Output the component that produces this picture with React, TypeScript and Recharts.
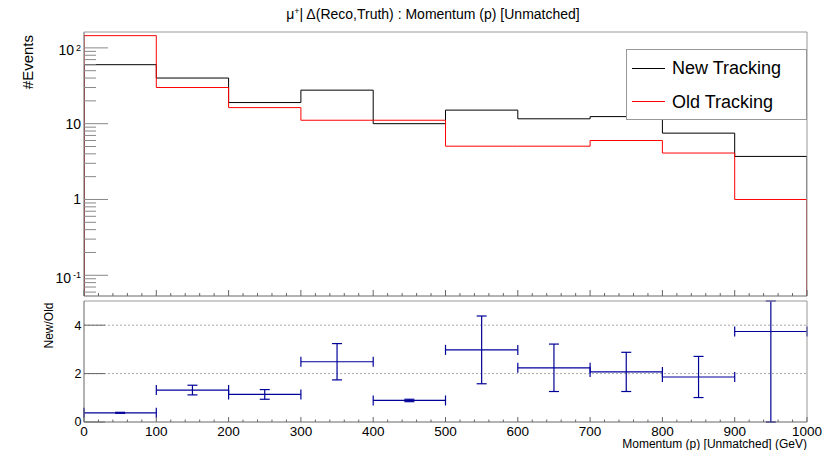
import React from 'react';
import { ComposedChart, Line, XAxis, YAxis, Scatter, ErrorBar, CartesianGrid, Legend, Label } from 'recharts';

const FONT = '"Liberation Sans", Arial, Helvetica, sans-serif';

// ---- data ----
const binEdges = [0, 100, 200, 300, 400, 500, 600, 700, 800, 900, 1000];
const newCounts = [60, 40, 19, 27.7, 10, 15.1, 11.6, 12.4, 7.5, 3.7];
const oldCounts = [145, 30, 16.3, 11.1, 11.1, 5.05, 5.05, 6, 4.1, 1];
const ratioValues = [0.38, 1.32, 1.14, 2.49, 0.89, 2.98, 2.24, 2.07, 1.86, 3.74];
const ratioErrors = [0.02, 0.2, 0.2, 0.75, 0.05, 1.4, 0.98, 0.81, 0.85, 4];
const seriesNames = ['New Tracking', 'Old Tracking'];
const seriesColors = ['#000000', '#ff0000'];
const countRange = [0.0533, 162];
const ratioRange = [0, 5];
const countMajorTicks = [0.1, 1, 10, 100];
const countMinorTicks = [0.06, 0.07, 0.08, 0.09, 0.2, 0.3, 0.4, 0.5, 0.6, 0.7, 0.8, 0.9, 2, 3, 4, 5, 6, 7, 8, 9, 20, 30, 40, 50, 60, 70, 80, 90];
const ratioTicks = [0, 2, 4];
const ratioGridValues = [2, 4];
const xMajorTicks = [0, 100, 200, 300, 400, 500, 600, 700, 800, 900, 1000];
const xMinorPerMajor = 5;
const titleText = '| Δ(Reco,Truth) : Momentum (p) [Unmatched]';
const xTitle = 'Momentum (p) [Unmatched] (GeV)';

// ---- derived tables ----
const xAllTicks: number[] = [];
xMajorTicks.forEach((t, i) => {
  xAllTicks.push(t);
  if (i < xMajorTicks.length - 1) {
    const step = (xMajorTicks[i + 1] - t) / xMinorPerMajor;
    for (let k = 1; k < xMinorPerMajor; k++) xAllTicks.push(t + k * step);
  }
});
const countTicks = [...countMinorTicks, ...countMajorTicks].sort((a, b) => a - b);

function stepData(counts: number[]) {
  const base = countRange[0];
  const last = binEdges[binEdges.length - 1];
  const pts = [{ x: binEdges[0], y: base }];
  counts.forEach((c, i) => pts.push({ x: binEdges[i], y: c }));
  pts.push({ x: last, y: counts[counts.length - 1] });
  pts.push({ x: last, y: base });
  return pts;
}
const newStep = stepData(newCounts);
const oldStep = stepData(oldCounts);
// error bars clipped to the visible ratio range
const ratioData = ratioValues.map((r, i) => ({
  x: (binEdges[i] + binEdges[i + 1]) / 2,
  y: r,
  ex: (binEdges[i + 1] - binEdges[i]) / 2,
  ey: [Math.min(ratioErrors[i], r - ratioRange[0]), Math.min(ratioErrors[i], ratioRange[1] - r)],
}));

const AXIS = '#666';
const FRAME = '#999';
const TICK = '#888';

const TopYTick = (props: any) => {
  const { x, y, payload } = props;
  const v = payload.value;
  const major = countMajorTicks.includes(v);
  let label: any = null;
  if (major) {
    const exp = Math.round(Math.log10(v));
    if (exp === 0 || exp === 1) {
      label = (
        <text x={x - 3} y={y} dy="0.35em" textAnchor="end" fontSize={14} fill="#000">
          {exp === 0 ? '1' : '10'}
        </text>
      );
    } else {
      label = (
        <text x={x - 3} y={y + 2.5} dy="0.35em" textAnchor="end" fontSize={14} fill="#000">
          10
          <tspan dx={2} dy={-4.5} fontSize={9}>{String(exp)}</tspan>
        </text>
      );
    }
  }
  return (
    <g>
      <line x1={x} x2={x + (major ? 24 : 12)} y1={y} y2={y} stroke={TICK} />
      {label}
    </g>
  );
};

const TopXTick = (props: any) => {
  const { x, y, payload } = props;
  const major = xMajorTicks.includes(payload.value);
  return <line x1={x} x2={x} y1={y} y2={y - (major ? 6 : 3)} stroke={AXIS} />;
};

const BottomXTick = (props: any) => {
  const { x, y, payload } = props;
  const major = xMajorTicks.includes(payload.value);
  return (
    <g>
      <line x1={x} x2={x} y1={y} y2={y - (major ? 5 : 2.5)} stroke={AXIS} />
      {major && (
        <text x={x} y={y + 13.5} textAnchor="middle" fontSize={13.5} fill="#000">
          {String(payload.value)}
        </text>
      )}
    </g>
  );
};

const BottomYTick = (props: any) => {
  const { x, y, payload } = props;
  return (
    <g>
      <line x1={x} x2={x + 21} y1={y} y2={y} stroke={AXIS} />
      <text x={x - 2.5} y={y} dy="0.35em" textAnchor="end" fontSize={12.5} fill="#000">
        {String(payload.value)}
      </text>
    </g>
  );
};

const LegendBox = () => (
  <div
    style={{
      position: 'relative',
      width: 181,
      height: 71,
      boxSizing: 'border-box',
      border: `1px solid ${FRAME}`,
      background: '#fff',
      fontFamily: FONT,
    }}
  >
    {seriesNames.map((name, i) => (
      <React.Fragment key={name}>
        <div
          style={{
            position: 'absolute',
            left: 5,
            top: 17.5 + i * 33.5,
            width: 33,
            height: 1,
            background: seriesColors[i],
          }}
        />
        <div
          style={{
            position: 'absolute',
            left: 45,
            top: 18 + i * 33.5,
            transform: 'translateY(-50%)',
            fontSize: 18,
            lineHeight: 1,
            whiteSpace: 'nowrap',
            color: '#000',
          }}
        >
          {name}
        </div>
      </React.Fragment>
    ))}
  </div>
);

export default function App() {
  return (
    <div
      style={{
        position: 'absolute',
        left: 0,
        top: 0,
        width: 825,
        height: 450,
        background: '#fff',
        fontFamily: FONT,
        overflow: 'hidden',
      }}
    >
      <svg width={825} height={30} style={{ position: 'absolute', left: 0, top: 0 }}>
        <text x={433} y={18.5} textAnchor="middle" fontSize={14} fill="#000" fontFamily={FONT}>
          μ<tspan dy={-5} fontSize={9}>+</tspan>
          <tspan dy={5}>{titleText}</tspan>
        </text>
      </svg>

      <div style={{ position: 'absolute', left: 0, top: 0 }}>
        <ComposedChart width={825} height={300} margin={{ top: 31, right: 17, bottom: 3, left: 0 }}>
          <XAxis
            dataKey="x"
            type="number"
            domain={[0, 1000]}
            ticks={xAllTicks}
            interval={0}
            height={1}
            tickSize={0}
            tickMargin={0}
            tick={<TopXTick />}
            tickLine={false}
            axisLine={{ stroke: AXIS }}
            allowDataOverflow
          />
          <XAxis
            xAxisId="top"
            orientation="top"
            type="number"
            domain={[0, 1000]}
            height={1}
            tick={false}
            tickLine={false}
            axisLine={{ stroke: FRAME }}
          />
          <YAxis
            dataKey="y"
            type="number"
            scale="log"
            domain={countRange}
            allowDataOverflow
            ticks={countTicks}
            interval={0}
            width={84}
            tickSize={0}
            tickMargin={0}
            tickLine={false}
            tick={<TopYTick />}
            axisLine={{ stroke: AXIS }}
          >
            <Label
              content={(p: any) => {
                const vb = p.viewBox || { x: 0, y: 32 };
                const tx = vb.x + 33;
                const ty = vb.y + 3;
                return (
                  <text
                    x={tx}
                    y={ty}
                    transform={`rotate(-90, ${tx}, ${ty})`}
                    textAnchor="end"
                    fontSize={15}
                    fill="#000"
                  >
                    #Events
                  </text>
                );
              }}
            />
          </YAxis>
          <YAxis
            yAxisId="right"
            orientation="right"
            type="number"
            domain={[0, 1]}
            width={1}
            tick={false}
            tickLine={false}
            axisLine={{ stroke: FRAME }}
          />
          <Line
            data={newStep}
            dataKey="y"
            type="stepAfter"
            stroke={seriesColors[0]}
            strokeWidth={1}
            dot={false}
            activeDot={false}
            isAnimationActive={false}
            name={seriesNames[0]}
          />
          <Line
            data={oldStep}
            dataKey="y"
            type="stepAfter"
            stroke={seriesColors[1]}
            strokeWidth={1}
            dot={false}
            activeDot={false}
            isAnimationActive={false}
            name={seriesNames[1]}
          />
          <Legend
            layout="vertical"
            align="center"
            verticalAlign="middle"
            wrapperStyle={{ left: 626, top: 49, width: 181, height: 71 }}
            content={() => <LegendBox />}
          />
        </ComposedChart>
      </div>

      <div style={{ position: 'absolute', left: 0, top: 300 }}>
        <ComposedChart width={825} height={150} margin={{ top: 0, right: 17, bottom: 27, left: 0 }}>
          <CartesianGrid vertical={false} horizontalValues={ratioGridValues} stroke="#aaa" strokeDasharray="2 2" />
          <XAxis
            dataKey="x"
            type="number"
            domain={[0, 1000]}
            ticks={xAllTicks}
            interval={0}
            height={1}
            tickSize={0}
            tickMargin={0}
            tickLine={false}
            tick={<BottomXTick />}
            axisLine={{ stroke: AXIS }}
            allowDataOverflow
          >
            <Label
              content={(p: any) => {
                const vb = p.viewBox || { x: 84, y: 122, width: 723 };
                return (
                  <text x={vb.x + vb.width} y={vb.y + 25.5} textAnchor="end" fontSize={12} fill="#000">
                    {xTitle}
                  </text>
                );
              }}
            />
          </XAxis>
          <XAxis
            xAxisId="top"
            orientation="top"
            type="number"
            domain={[0, 1000]}
            height={1}
            tick={false}
            tickLine={false}
            axisLine={{ stroke: FRAME }}
          />
          <YAxis
            dataKey="y"
            type="number"
            domain={ratioRange}
            allowDataOverflow
            ticks={ratioTicks}
            interval={0}
            width={84}
            tickSize={0}
            tickMargin={0}
            tickLine={false}
            tick={<BottomYTick />}
            axisLine={{ stroke: AXIS }}
          >
            <Label
              content={(p: any) => {
                const vb = p.viewBox || { x: 0, y: 1 };
                const tx = vb.x + 53;
                const ty = vb.y + 1.5;
                return (
                  <text
                    x={tx}
                    y={ty}
                    transform={`rotate(-90, ${tx}, ${ty})`}
                    textAnchor="end"
                    fontSize={12}
                    fill="#000"
                  >
                    New/Old
                  </text>
                );
              }}
            />
          </YAxis>
          <YAxis
            yAxisId="right"
            orientation="right"
            type="number"
            domain={[0, 1]}
            width={1}
            tick={false}
            tickLine={false}
            axisLine={{ stroke: FRAME }}
          />
          <Scatter data={ratioData} dataKey="y" shape={() => <g />} isAnimationActive={false}>
            <ErrorBar dataKey="ex" direction="x" width={5} stroke="#000099" strokeWidth={1.2} isAnimationActive={false} />
            <ErrorBar dataKey="ey" direction="y" width={5} stroke="#000099" strokeWidth={1.2} isAnimationActive={false} />
          </Scatter>
        </ComposedChart>
      </div>
    </div>
  );
}
